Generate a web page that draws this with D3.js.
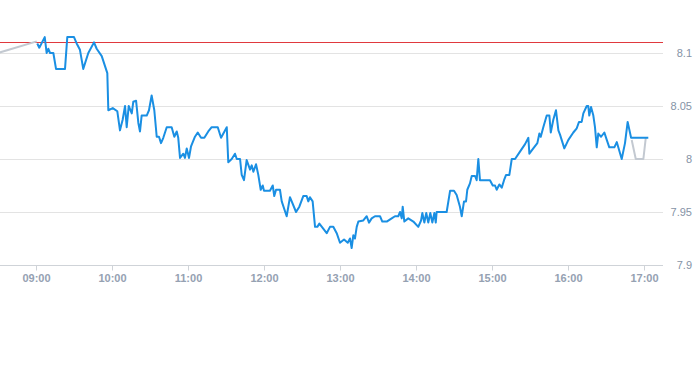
<!DOCTYPE html>
<html>
<head>
<meta charset="utf-8">
<script src="https://cdn.jsdelivr.net/npm/d3@7"></script>
<style>
  body { margin: 0; background: #fff; }
  svg { display: block; font-family: "Liberation Sans", Arial, sans-serif; }
  .grid line { stroke: #e3e3e3; }
  .axis path, .axis line { stroke: #cfd3d8; }
  .axis text { fill: #8593a6; font-size: 11px; }
  .xaxis text { fill: #95a1b2; font-weight: bold; }
</style>
</head>
<body>
<div id="chart"></div>
<script>
// minutes after 09:00 and price
var mainMinutes = [1.0, 2.6, 6.9, 8.4, 9.7, 11.1, 13.7, 15.8, 22.9, 24.7, 30.0, 32.1, 34.7, 37.3, 41.3, 45.8, 47.9, 51.9, 56.3, 57.1,
  60.6, 64.2, 66.3, 68.4, 70.3, 71.6, 73.2, 75.6, 76.8, 79.0, 80.8, 82.1, 83.4, 87.4, 89.2, 91.3, 93.4, 95.3, 97.1, 98.7,
  100.5, 103.2, 107.1, 109.2, 111.1, 112.3, 113.7, 116.3, 117.6, 119.0, 120.8, 122.4, 125.5, 127.7, 130.3, 132.9, 136.0, 138.7, 143.5, 146.1,
  150.6, 151.8, 154.5, 157.1, 158.5, 161.1, 162.4, 164.2, 166.3, 169.0, 170.3, 171.6, 173.7, 175.5, 177.4, 179.0, 180.0, 184.7, 186.9, 188.1,
  189.5, 192.6, 194.0, 197.9, 200.5, 205.3, 207.9, 211.0, 213.7, 215.0, 216.3, 218.4, 220.3, 222.1, 223.7, 226.3, 229.5, 232.1, 234.7, 237.4,
  240.0, 243.2, 246.1, 247.9, 249.2, 250.5, 251.8, 253.2, 254.5, 258.4, 261.1, 262.9, 265.0, 267.6, 271.6, 273.4, 276.9, 280.8, 283.4, 286.0,
  287.4, 288.7, 289.5, 290.8, 293.9, 297.9, 301.8, 304.0, 305.0, 306.6, 308.1, 309.7, 311.3, 312.9, 314.5, 315.6, 316.3, 324.2, 326.9, 330.0,
  332.1, 334.7, 336.1, 337.9, 339.5, 340.5, 342.6, 344.0, 346.6, 347.9, 349.2, 350.5, 358.4, 360.6, 362.4, 363.7, 365.8, 367.7, 369.5, 371.1,
  373.7, 375.6, 378.2, 382.1, 386.1, 388.7, 389.5, 392.6, 395.8, 397.4, 398.5, 400.5, 403.2, 405.3, 406.4, 408.4, 410.5, 412.4, 413.7, 417.1,
  420.3, 424.2, 426.9, 428.7, 430.8, 432.1, 434.8, 436.0, 436.8, 438.2, 440.0, 441.3, 442.7, 443.9, 446.1, 448.7, 450.6, 452.6, 456.6, 458.5,
  459.7, 462.4, 465.0, 467.1, 469.8, 483.4];
var mainValues = [8.109, 8.105, 8.115, 8.100, 8.104, 8.100, 8.100, 8.085, 8.085, 8.115, 8.115, 8.109, 8.103, 8.085, 8.100, 8.110, 8.104, 8.097, 8.081, 8.046,
  8.048, 8.045, 8.027, 8.037, 8.050, 8.030, 8.050, 8.043, 8.054, 8.055, 8.034, 8.026, 8.041, 8.041, 8.046, 8.060, 8.046, 8.021, 8.021, 8.015,
  8.020, 8.030, 8.030, 8.021, 8.026, 8.020, 8.001, 8.005, 8.001, 8.010, 8.001, 8.012, 8.021, 8.025, 8.020, 8.020, 8.026, 8.030, 8.030, 8.020,
  8.030, 7.997, 8.000, 8.005, 8.000, 8.000, 7.985, 7.980, 7.999, 7.990, 7.994, 7.988, 7.995, 7.985, 7.971, 7.975, 7.970, 7.970, 7.975, 7.965,
  7.971, 7.971, 7.960, 7.946, 7.964, 7.950, 7.955, 7.965, 7.965, 7.960, 7.964, 7.960, 7.936, 7.936, 7.939, 7.935, 7.930, 7.936, 7.936, 7.930,
  7.921, 7.924, 7.921, 7.925, 7.916, 7.928, 7.925, 7.936, 7.941, 7.942, 7.946, 7.940, 7.944, 7.946, 7.946, 7.941, 7.941, 7.944, 7.946, 7.946,
  7.950, 7.944, 7.955, 7.941, 7.944, 7.941, 7.936, 7.942, 7.949, 7.940, 7.949, 7.940, 7.949, 7.940, 7.949, 7.940, 7.950, 7.950, 7.970, 7.970,
  7.966, 7.955, 7.946, 7.960, 7.960, 7.971, 7.977, 7.984, 7.984, 7.980, 8.000, 7.980, 7.980, 7.975, 7.975, 7.971, 7.976, 7.973, 7.980, 7.985,
  7.985, 8.000, 8.000, 8.007, 8.014, 8.020, 8.005, 8.010, 8.015, 8.024, 8.021, 8.030, 8.041, 8.041, 8.025, 8.037, 8.046, 8.027, 8.023, 8.010,
  8.018, 8.025, 8.029, 8.035, 8.035, 8.043, 8.050, 8.050, 8.041, 8.049, 8.041, 8.030, 8.011, 8.024, 8.021, 8.025, 8.018, 8.011, 8.011, 8.016,
  8.011, 8.000, 8.015, 8.035, 8.020, 8.020];

// grey segments before the open and after the close
var preMinutes = [-30, 0.6];
var preValues = [8.100, 8.111];
var postMinutes = [470.3, 473.5, 479.5, 481.4];
var postValues = [8.018, 8.000, 8.000, 8.020];

var prevClose = 8.11;
var yTicks = [8.1, 8.05, 8, 7.95, 7.9];
var xTicks = [0, 60, 120, 180, 240, 300, 360, 420, 480];
var xTickLabels = ["09:00", "10:00", "11:00", "12:00", "13:00", "14:00", "15:00", "16:00", "17:00"];

var fullWidth = 693, fullHeight = 365;
var width = 663, height = 265;

var x = d3.scaleLinear().domain([-30, 495]).range([-2, 663]);
var y = d3.scaleLinear().domain([7.9, 8.15]).range([height, 0]);

var svg = d3.select("#chart")
    .append("svg")
        .attr("width", fullWidth)
        .attr("height", fullHeight);

svg.append("defs").append("clipPath").attr("id", "plot")
    .append("rect").attr("x", 0).attr("y", 0).attr("width", width).attr("height", height);

// horizontal grid
svg.append("g")
    .attr("class", "grid")
    .selectAll("line")
    .data(yTicks.slice(0, 4))
    .enter().append("line")
        .attr("x1", 0).attr("x2", width)
        .attr("y1", function(d) { return Math.round(y(d)) + 0.5; })
        .attr("y2", function(d) { return Math.round(y(d)) + 0.5; });

// x axis
var xAxis = svg.append("g")
    .attr("class", "axis xaxis")
    .attr("transform", "translate(0," + (height + 0.5) + ")")
    .call(d3.axisBottom(x)
        .tickValues(xTicks)
        .tickFormat(function(d, i) { return xTickLabels[i]; })
        .tickSize(5)
        .tickPadding(4)
        .tickSizeOuter(0));
xAxis.select(".domain").attr("d", "M0,0H" + width);

// y labels on the right
svg.append("g")
    .attr("class", "axis")
    .selectAll("text")
    .data(yTicks)
    .enter().append("text")
        .attr("x", 692)
        .attr("y", function(d) { return y(d); })
        .attr("dy", "0.35em")
        .attr("text-anchor", "end")
        .text(function(d) { return d; });

// previous close
svg.append("line")
    .attr("x1", 0).attr("x2", width)
    .attr("y1", Math.round(y(prevClose)) + 0.5)
    .attr("y2", Math.round(y(prevClose)) + 0.5)
    .attr("stroke", "#e0393e")
    .attr("stroke-width", 1);

function drawLine(minutes, values, color) {
    var pts = minutes.map(function(m, i) { return [m, values[i]]; });
    svg.append("path")
        .datum(pts)
        .attr("clip-path", "url(#plot)")
        .attr("fill", "none")
        .attr("stroke", color)
        .attr("stroke-width", 2)
        .attr("stroke-linejoin", "round")
        .attr("d", d3.line()
            .x(function(d) { return x(d[0]); })
            .y(function(d) { return y(d[1]); }));
}

drawLine(preMinutes, preValues, "#c3c9d1");
drawLine(postMinutes, postValues, "#c3c9d1");
drawLine(mainMinutes, mainValues, "#1a8fe3");
</script>
</body>
</html>
